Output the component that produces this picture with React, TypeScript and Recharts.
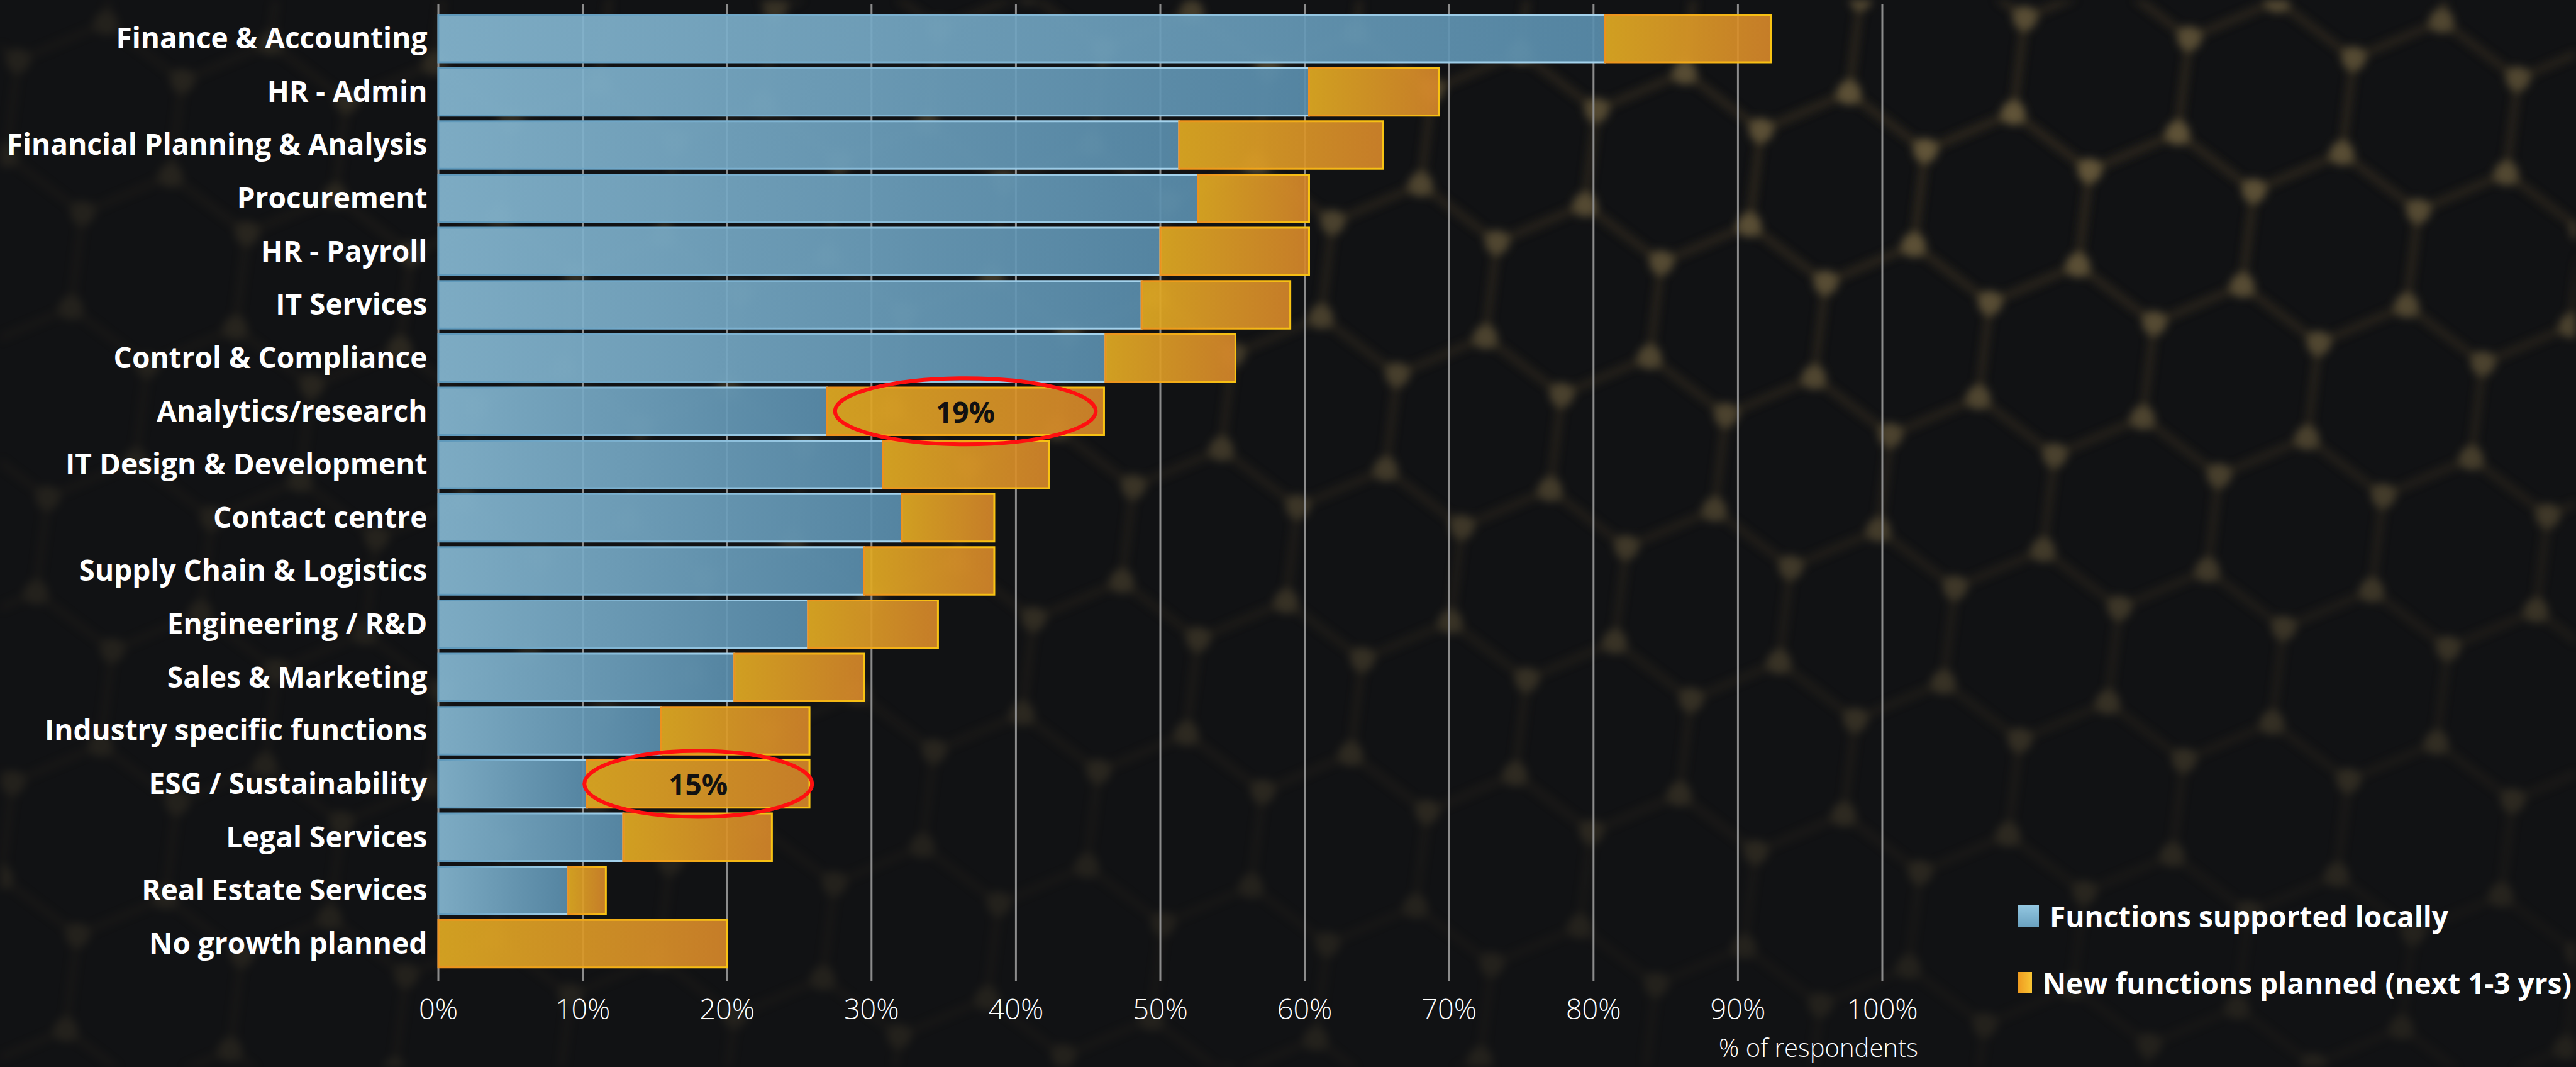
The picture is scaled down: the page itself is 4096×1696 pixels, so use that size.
import React from 'react';
import { BarChart, Bar, XAxis, YAxis, CartesianGrid, Legend, LabelList } from 'recharts';

const functionNames = [
  'Finance & Accounting',
  'HR - Admin',
  'Financial Planning & Analysis',
  'Procurement',
  'HR - Payroll',
  'IT Services',
  'Control & Compliance',
  'Analytics/research',
  'IT Design & Development',
  'Contact centre',
  'Supply Chain & Logistics',
  'Engineering / R&D',
  'Sales & Marketing',
  'Industry specific functions',
  'ESG / Sustainability',
  'Legal Services',
  'Real Estate Services',
  'No growth planned',
];
const supportedLocally = [80.8, 60.3, 51.3, 52.6, 50.0, 48.7, 46.2, 26.9, 30.8, 32.1, 29.5, 25.6, 20.5, 15.4, 10.3, 12.8, 9.0, 0];
const plannedNew = [11.5, 9.0, 14.1, 7.7, 10.3, 10.3, 9.0, 19.2, 11.5, 6.4, 9.0, 9.0, 9.0, 10.3, 15.4, 10.3, 2.6, 20.0];
const callouts = ['', '', '', '', '', '', '', '19%', '', '', '', '', '', '', '15%', '', '', ''];
const xTicks = [0, 10, 20, 30, 40, 50, 60, 70, 80, 90, 100];
const seriesNames = ['Functions supported locally', 'New functions planned (next 1-3 yrs)'];
const axisTitle = '% of respondents';

const W = 4096;
const H = 1696;
const PLOT_LEFT = 697;
const PLOT_RIGHT = 2993;
const GRID_TOP = 7;
const GRID_BOTTOM = 1559;
const XAXIS_H = 60;
const FONT = "'Open Sans', Lato, 'DejaVu Sans', sans-serif";

const legendSwatches = [
  'linear-gradient(180deg, #93c7e1 0%, #6aa1c0 100%)',
  'linear-gradient(90deg, #ef9b20 0%, #f8c534 100%)',
];

// decorative honeycomb backdrop
const Backdrop = () => {
  const a = 152;
  const w = Math.sqrt(3) * a;
  const h = 3 * a;
  const centers = [[0, 0], [w, 0], [w / 2, 1.5 * a], [0, h], [w, h]];
  const verts = (cx: number, cy: number) =>
    [30, 90, 150, 210, 270, 330].map((d) => [cx + a * Math.cos((d * Math.PI) / 180), cy + a * Math.sin((d * Math.PI) / 180)]);
  return (
    <svg width={W} height={H} style={{ position: 'absolute', left: 0, top: 0 }}>
      <defs>
        <pattern id="hex" patternUnits="userSpaceOnUse" width={w} height={h} patternTransform="rotate(7) translate(40 -60)">
          {centers.map(([cx, cy], i) => (
            <polygon key={i} points={verts(cx, cy).map((p) => p.join(',')).join(' ')} fill="none" stroke="#3f3524" strokeWidth={13} />
          ))}
          {centers.flatMap(([cx, cy], i) =>
            verts(cx, cy).map(([px, py], j) => <circle key={`${i}-${j}`} cx={px} cy={py} r={19} fill="#9c8552" />)
          )}
        </pattern>
        <filter id="soft">
          <feGaussianBlur stdDeviation={7} />
        </filter>
        <radialGradient id="glow" cx="0.78" cy="0.15" r="0.75">
          <stop offset="0%" stopColor="#fff" />
          <stop offset="55%" stopColor="#888" />
          <stop offset="100%" stopColor="#3a3a3a" />
        </radialGradient>
        <mask id="fade">
          <rect width={W} height={H} fill="url(#glow)" />
        </mask>
      </defs>
      <g mask="url(#fade)" opacity={0.6}>
        <rect width={W} height={H} fill="url(#hex)" filter="url(#soft)" />
      </g>
    </svg>
  );
};

const Callout = (props: any) => {
  const { x, y, width, height, value } = props;
  if (!value) return null;
  const cx = Number(x) + Number(width) / 2;
  const cy = Number(y) + Number(height) / 2;
  const rx = (0.6 * Number(width) + 150) / 2;
  return (
    <g>
      <ellipse cx={cx} cy={cy} rx={rx} ry={52.5} fill="none" stroke="#ff1010" strokeWidth={6} />
      <text x={cx} y={cy} textAnchor="middle" dominantBaseline="central" fontSize={46} fontWeight={700} fill="#111" fontFamily={FONT}>
        {value}
      </text>
    </g>
  );
};

const AxisTitle = (props: any) => {
  const vb = props.viewBox || { x: PLOT_LEFT, y: GRID_BOTTOM, width: PLOT_RIGHT - PLOT_LEFT, height: XAXIS_H };
  return (
    <text x={vb.x + vb.width + 57} y={vb.y + 105} textAnchor="end" dominantBaseline="central" fontSize={40} fontWeight={300} fill="#fff" fontFamily={FONT}>
      {axisTitle}
    </text>
  );
};

const LegendBox = (props: any) => {
  const items = props.payload || [];
  return (
    <div style={{ fontFamily: FONT }}>
      {items.map((entry: any, i: number) => (
        <div key={i} style={{ display: 'flex', alignItems: 'center', height: 34, marginBottom: 72 }}>
          <span style={{ display: 'inline-block', width: 33, height: 34, background: legendSwatches[i], marginRight: 17 }} />
          <span style={{ color: '#fff', fontSize: 46, fontWeight: 700, lineHeight: '34px', whiteSpace: 'nowrap' }}>{entry.value}</span>
        </div>
      ))}
    </div>
  );
};

export default function App() {
  const rows = functionNames.map((name, i) => ({
    name,
    local: supportedLocally[i],
    planned: plannedNew[i],
    note: callouts[i],
  }));

  return (
    <div style={{ position: 'relative', width: W, height: H, background: '#111214', overflow: 'hidden', fontFamily: FONT }}>
      <style>{'body{margin:0}'}</style>
      <Backdrop />
      <BarChart
        width={W}
        height={H}
        layout="vertical"
        data={rows}
        barSize={75.5}
        margin={{ top: GRID_TOP, right: W - PLOT_RIGHT, bottom: H - GRID_BOTTOM - XAXIS_H, left: 0 }}
        style={{ position: 'absolute', left: 0, top: 0 }}
      >
        <defs>
          <linearGradient id="blueFill" x1="0" y1="0" x2="1" y2="0">
            <stop offset="0%" stopColor="#86b8d2" />
            <stop offset="100%" stopColor="#5a8ead" />
          </linearGradient>
          <linearGradient id="blueEdge" x1="0" y1="0" x2="1" y2="0">
            <stop offset="0%" stopColor="#5e98ba" />
            <stop offset="100%" stopColor="#a6d4ee" />
          </linearGradient>
          <linearGradient id="orangeFill" x1="0" y1="0" x2="1" y2="0">
            <stop offset="0%" stopColor="#e1ab22" />
            <stop offset="100%" stopColor="#d5862a" />
          </linearGradient>
          <linearGradient id="orangeEdge" x1="0" y1="0" x2="1" y2="0">
            <stop offset="0%" stopColor="#ec911e" />
            <stop offset="100%" stopColor="#f8c313" />
          </linearGradient>
        </defs>
        <CartesianGrid horizontal={false} stroke="#8c8c8c" strokeWidth={3} />
        <XAxis
          type="number"
          domain={[0, 100]}
          ticks={xTicks}
          interval={0}
          tickFormatter={(v) => `${v}%`}
          axisLine={false}
          tickLine={false}
          tickSize={0}
          tickMargin={28.8}
          height={XAXIS_H}
          tick={{ fill: '#fff', fontSize: 45, fontWeight: 300, fontFamily: FONT }}
          label={<AxisTitle />}
        />
        <YAxis
          type="category"
          dataKey="name"
          width={PLOT_LEFT}
          interval={0}
          axisLine={false}
          tickLine={false}
          tickSize={0}
          tickMargin={17.6}
          padding={{ top: 11.6, bottom: 17.2 }}
          tick={{ fill: '#fff', fontSize: 46, fontWeight: 700, fontFamily: FONT }}
        />
        <Bar
          dataKey="local"
          name={seriesNames[0]}
          stackId="a"
          fill="url(#blueFill)"
          fillOpacity={0.92}
          stroke="url(#blueEdge)"
          strokeWidth={3}
          isAnimationActive={false}
        />
        <Bar
          dataKey="planned"
          name={seriesNames[1]}
          stackId="a"
          fill="url(#orangeFill)"
          fillOpacity={0.92}
          stroke="url(#orangeEdge)"
          strokeWidth={3}
          isAnimationActive={false}
        >
          <LabelList dataKey="note" content={Callout} />
        </Bar>
        <Legend
          layout="vertical"
          align="center"
          verticalAlign="middle"
          content={LegendBox}
          wrapperStyle={{ left: 3209, top: 1439, width: 880, height: 200 }}
        />
      </BarChart>
    </div>
  );
}
